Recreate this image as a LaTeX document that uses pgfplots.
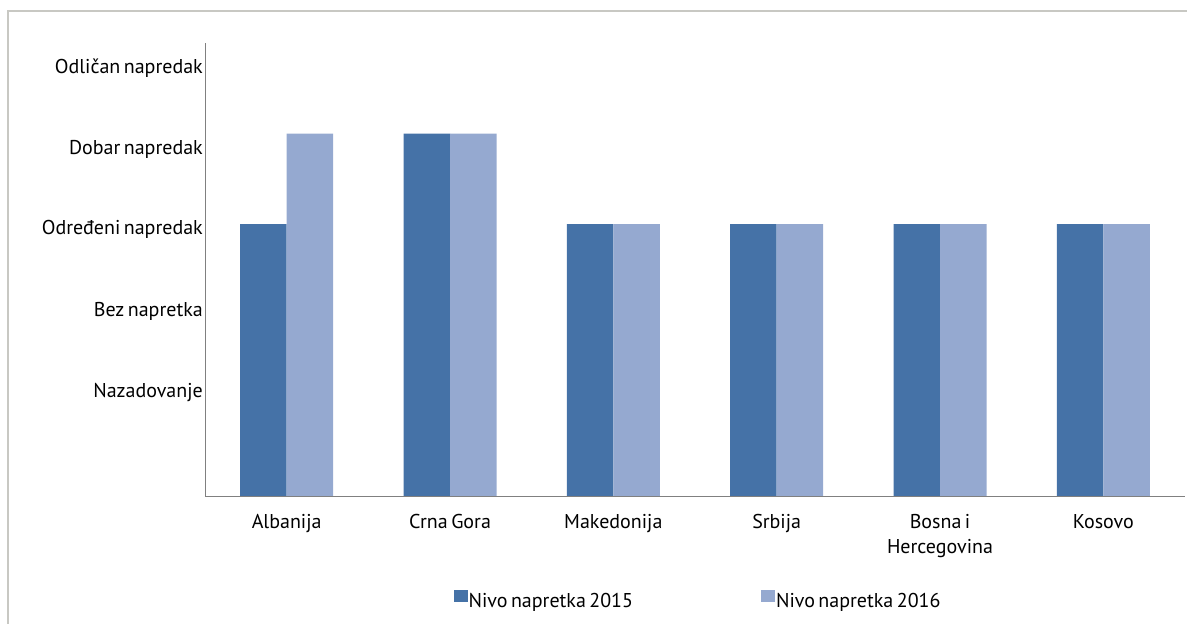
\documentclass[border=0pt]{standalone}
\usepackage{fontspec}
\setmainfont{PT Sans}[WordSpace=0.65]
\usepackage{pgfplots}
\pgfplotsset{compat=1.18}
\definecolor{c15}{RGB}{69,114,167}
\definecolor{c16}{RGB}{149,169,208}
\definecolor{framec}{RGB}{200,200,195}
\begin{document}
\begin{tikzpicture}[x=1pt,y=1pt]
\path[use as bounding box] (0,0) rectangle (1187,624);
\draw[framec, line width=2pt] (8,0) -- (8,613) -- (1187,613);
\begin{axis}[
  at={(205pt,128pt)}, anchor=south west, scale only axis,
  width=980pt, height=453pt,
  ybar=0pt, bar width=46.5pt,
  xmin=-0.5, xmax=5.5, ymin=0, ymax=5,
  axis x line*=bottom, axis y line*=left,
  axis line style={draw=gray, line width=0.8pt, -},
  major tick length=0pt,
  xtick={0,1,2,3,4,5},
  xticklabels={Albanija, Crna Gora, Makedonija, Srbija, {Bosna i\\Hercegovina}, Kosovo},
  xticklabel style={align=center, anchor=north, inner sep=0pt, yshift=-18pt},
  ytick={1.14,2.04,2.94,3.82,4.72},
  yticklabels={Nazadovanje, Bez napretka, Određeni napredak, Dobar napredak, Odličan napredak},
  yticklabel style={anchor=east, inner sep=0pt, xshift=-2pt},
  tick label style={font=\fontsize{20}{25}\selectfont},
  legend style={at={(0.5026,-0.2296)}, anchor=center, draw=none, fill=none,
    legend columns=2, font=\fontsize{20}{25}\selectfont,
    nodes={inner sep=1pt},
    /tikz/every even column/.append style={column sep=127pt}},
  legend image code/.code={\fill[#1] (0pt,-1pt) rectangle (14pt,11pt);},
]
\addplot[fill=c15, draw=none] coordinates {(0,3) (1,4) (2,3) (3,3) (4,3) (5,3)};
\addplot[fill=c16, draw=none] coordinates {(0,4) (1,4) (2,3) (3,3) (4,3) (5,3)};
\legend{Nivo napretka 2015, Nivo napretka 2016}
\end{axis}
\end{tikzpicture}
\end{document}
